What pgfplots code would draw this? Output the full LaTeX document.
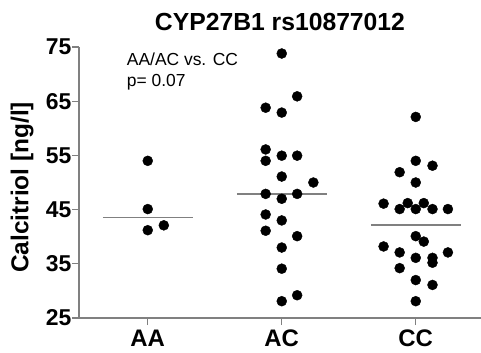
\documentclass[border=0pt]{standalone}
\usepackage{pgfplots}
\pgfplotsset{compat=1.18}
\usepackage{fontspec}
\setmainfont{Liberation Sans}
\definecolor{axisgray}{RGB}{128,128,128}
\begin{document}
\begin{tikzpicture}[x=1bp,y=1bp]
\useasboundingbox (0,0) rectangle (481,352);
\begin{axis}[
  at={(79bp,34bp)}, anchor=south west,
  scale only axis, width=402bp, height=271bp,
  xmin=-0.513, xmax=2.487, ymin=25, ymax=75,
  axis lines=left,
  axis line style={-, draw=axisgray, line width=1.3bp},
  tick style={draw=axisgray, line width=1.3bp},
  major tick length=7bp, tick align=outside,
  xtick={0,1,2}, xticklabels={AA,AC,CC},
  ytick={25,35,45,55,65,75},
  /pgf/number format/assume math mode=true,
  yticklabel style={font=\bfseries\fontsize{23}{23}\selectfont, inner sep=0.5bp},
  xticklabel style={font=\bfseries\fontsize{24}{24}\selectfont, inner sep=4.5bp},
  clip=false,
]
\addplot[axisgray, line width=1.5bp] coordinates {(-0.335,43.5) (0.335,43.5)};
\addplot[axisgray, line width=1.5bp] coordinates {(0.665,47.9) (1.335,47.9)};
\addplot[axisgray, line width=1.5bp] coordinates {(1.665,42.2) (2.335,42.2)};
% AA
\addplot[only marks, mark=*, mark size=5bp, mark options={fill=black, draw=black}] coordinates {
(0,54.0) (0,45.1) (0,41.2) (0.12,42.1)
};
% AC
\addplot[only marks, mark=*, mark size=5bp, mark options={fill=black, draw=black}] coordinates {
(1,73.8) (1.115,65.9) (0.88,63.8) (1,62.9) (0.88,56.1) (0.88,54.0)
(1,54.95) (1.115,54.95) (1,51.1) (1.236,50.0) (0.88,47.9) (1.115,47.9)
(1,47.0) (0.88,44.1) (1,43.0) (0.88,41.1) (1.115,40.1) (1,38.0)
(1,34.1) (1.115,29.2) (1,28.1)
};
% CC
\addplot[only marks, mark=*, mark size=5bp, mark options={fill=black, draw=black}] coordinates {
(2,62.1) (2,54.0) (2.125,53.1) (1.88,51.9) (2,50.0) (1.76,46.1)
(1.94,46.2) (2.06,46.2) (1.88,45.1) (2,45.1) (2.125,45.1) (2.24,45.1)
(2,40.1) (2.06,39.1) (1.76,38.2) (1.88,37.1) (2.24,37.1) (2,36.1)
(2.125,36.1) (2.125,35.2) (1.88,34.2) (2,32.0) (2.125,31.1) (2,28.1)
};
\end{axis}
\node[anchor=base, font=\bfseries\fontsize{24.8}{24.8}\selectfont] at (280,322) {CYP27B1 rs10877012};
\node[rotate=90, anchor=base, font=\bfseries\fontsize{24.5}{24.5}\selectfont] at (28.3,164.5) {Calcitriol [ng/l]};
\node[anchor=base west, inner sep=0pt, font=\fontsize{17.5}{17.5}\selectfont] at (126.7,286.3) {AA/AC vs. CC};
\node[anchor=base west, inner sep=0pt, font=\fontsize{17.5}{17.5}\selectfont] at (126.7,266) {p= 0.07};
\end{tikzpicture}
\end{document}
